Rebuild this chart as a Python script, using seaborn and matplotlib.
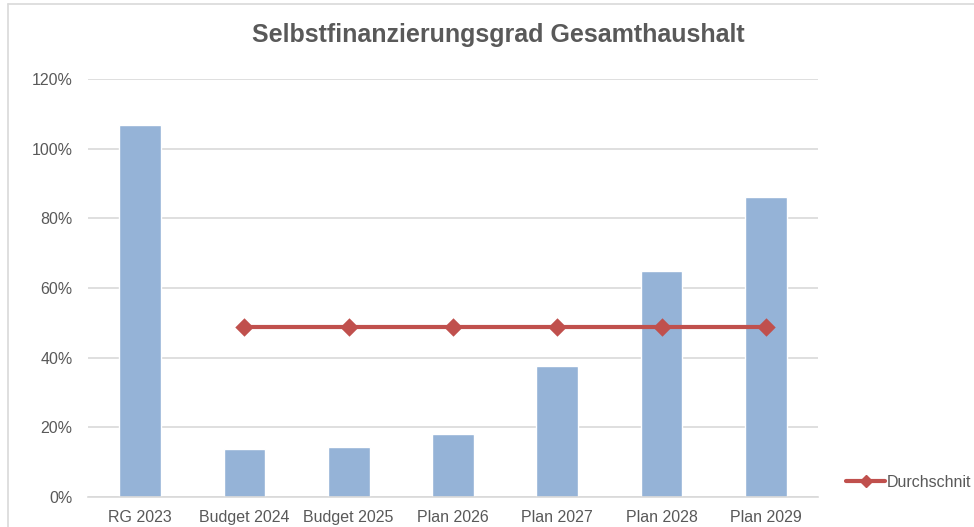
import numpy as np
import pandas as pd
import matplotlib
matplotlib.use("Agg")
import matplotlib.pyplot as plt
from matplotlib.lines import Line2D
from matplotlib.ticker import FuncFormatter
import seaborn as sns

# Chart data
categories = ["RG 2023", "Budget 2024", "Budget 2025", "Plan 2026",
              "Plan 2027", "Plan 2028", "Plan 2029"]
quote = [106.8, 13.8, 14.4, 18.1, 37.6, 64.9, 86.2]
durchschnitt = [np.nan, 48.8, 48.8, 48.8, 48.8, 48.8, 48.8]
y_ticks = [0, 20, 40, 60, 80, 100, 120]

sns.set_theme(style="white")
plt.rcParams['font.family'] = ['Liberation Sans', 'DejaVu Sans']

text_col = "#595959"
bar_col = "#95B3D7"
line_col = "#C0504D"

df = pd.DataFrame({"kat": categories, "quote": quote, "avg": durchschnitt})

fig = plt.figure(figsize=(9.74, 5.27), dpi=100)
ax = fig.add_axes([0.0903, 0.0569, 0.7495, 0.7931])

sns.barplot(data=df, x="kat", y="quote", order=categories, color=bar_col,
            saturation=1, width=0.4, ax=ax, zorder=2)
sns.pointplot(data=df, x="kat", y="avg", order=categories, color=line_col,
              markers="D", linestyles="-", errorbar=None, ax=ax,
              markersize=7, linewidth=3, zorder=3)
if ax.get_legend() is not None:
    ax.get_legend().remove()

ax.set_ylim(0, 120)
ax.set_yticks(y_ticks)
ax.yaxis.set_major_formatter(FuncFormatter(lambda v, p: f"{v:.0f}%"))
ax.set_xlim(-0.5, len(categories) - 0.5)
ax.grid(axis="y", color="#D9D9D9", linewidth=1.2, zorder=0)
ax.set_axisbelow(True)
for s in ["top", "right", "left"]:
    ax.spines[s].set_visible(False)
ax.spines["bottom"].set_color("#D9D9D9")
ax.spines["bottom"].set_linewidth(1.2)
ax.set_xlabel("")
ax.set_ylabel("")
ax.tick_params(axis="both", length=0, labelsize=11.5, colors=text_col)
ax.tick_params(axis="y", pad=11)
ax.tick_params(axis="x", pad=9)

fig.suptitle("Selbstfinanzierungsgrad Gesamthaushalt", x=0.512, y=0.957,
             fontsize=18, fontweight="bold", color=text_col)

leg = fig.legend(handles=[Line2D([], [], color=line_col, lw=3, marker="D",
                                 markersize=6, label="Durchschnit")],
                 loc="center left", bbox_to_anchor=(0.869, 0.085),
                 frameon=False, fontsize=11.5, handlelength=2.4,
                 handletextpad=0.1, borderpad=0, borderaxespad=0)
for t in leg.get_texts():
    t.set_color(text_col)

# thin chart frame (top and left edges visible in the reference)
fig.add_artist(Line2D([8 / 974, 8 / 974], [0, 1 - 4 / 527],
                      transform=fig.transFigure, color="#D9D9D9", lw=1.2))
fig.add_artist(Line2D([8 / 974, 1], [1 - 4 / 527, 1 - 4 / 527],
                      transform=fig.transFigure, color="#D9D9D9", lw=1.2))

fig.savefig("out.png", dpi=100)
